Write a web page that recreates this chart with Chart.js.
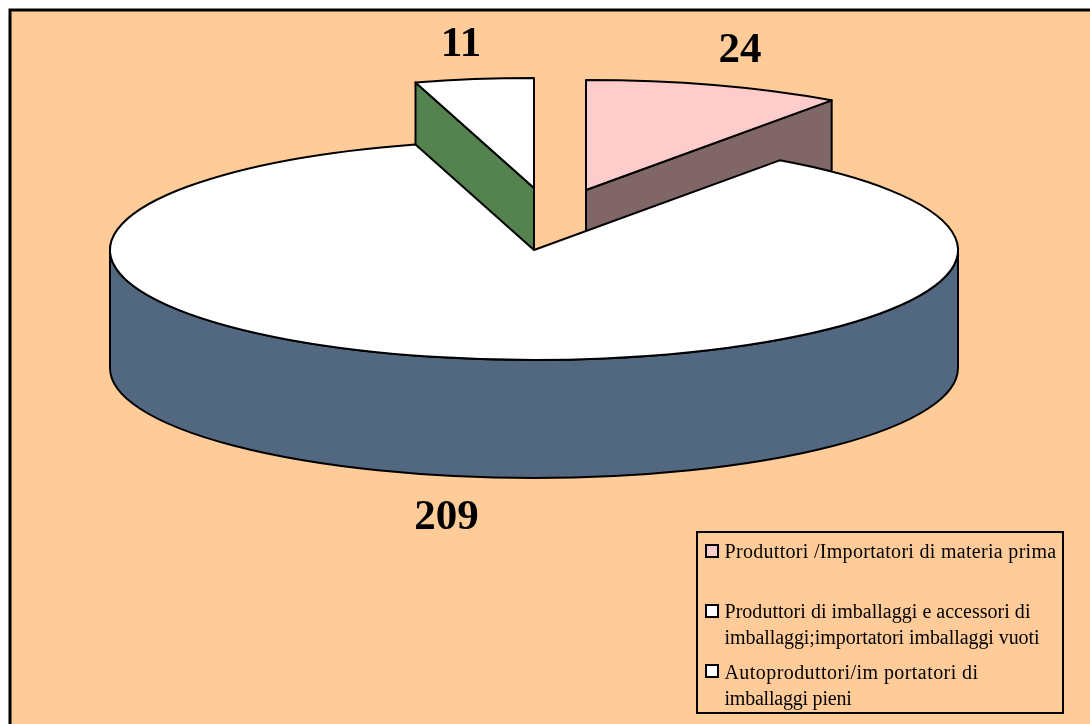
<!DOCTYPE html>
<html>
<head>
<meta charset="utf-8">
<title>Torta</title>
<script src="https://cdn.jsdelivr.net/npm/chart.js@4/dist/chart.umd.js"></script>
<style>
  html, body { margin: 0; padding: 0; background: #fff; overflow: hidden; }
  canvas { display: block; }
</style>
</head>
<body>
<canvas id="pieChart" width="1090" height="724"></canvas>
<script>
const categories = [
  'Produttori /Importatori di materia prima',
  ['Produttori di imballaggi e accessori di', 'imballaggi;importatori imballaggi vuoti'],
  ['Autoproduttori/im portatori di', 'imballaggi pieni']
];
const sliceValues = [24, 209, 11];

const topColors = ['#ffcccc', '#ffffff', '#ffffff'];
const sideColors = ['#806666', '#526880', '#54834f'];

// geometry of the tilted pie
const PIE_X = 534;
const PIE_Y = 250;
const PIE_RADIUS = 424;
const TILT = 110 / 424;
const DEPTH = 118;
const sliceShift = [[52, -60], [0, 0], [0, -62]];

const FONT_FAMILY = '"Liberation Serif", "Times New Roman", serif';
const valueLabelPos = [[740, 62], [446.5, 529], [461, 56]];
const legendRows = [[558, 551], [618, 611], [679, 671]];
const legendWidths = [[332], [306, 315], [254, 127]];
const LEGEND_LINE = 26;

function sectorPath(ctx, arc) {
  ctx.beginPath();
  ctx.moveTo(arc.x, arc.y);
  ctx.ellipse(arc.x, arc.y, arc.outerRadius, arc.outerRadius * TILT, 0, arc.startAngle, arc.endAngle);
  ctx.closePath();
}

function fillAndStroke(ctx, color) {
  ctx.fillStyle = color;
  ctx.fill();
  ctx.stroke();
}

// side faces: cut edges that look forward, then the front of the rim
function drawSides(ctx, arc, color) {
  const rx = arc.outerRadius;
  const ry = rx * TILT;
  [arc.startAngle, arc.endAngle].forEach((angle, i) => {
    const facing = i === 0 ? Math.cos(angle) < -1e-6 : Math.cos(angle) > 1e-6;
    if (!facing) return;
    const ex = arc.x + rx * Math.cos(angle);
    const ey = arc.y + ry * Math.sin(angle);
    ctx.beginPath();
    ctx.moveTo(arc.x, arc.y);
    ctx.lineTo(ex, ey);
    ctx.lineTo(ex, ey + DEPTH);
    ctx.lineTo(arc.x, arc.y + DEPTH);
    ctx.closePath();
    fillAndStroke(ctx, color);
  });
  const from = Math.max(arc.startAngle, 0);
  const to = Math.min(arc.endAngle, Math.PI);
  if (to > from) {
    ctx.beginPath();
    ctx.ellipse(arc.x, arc.y, rx, ry, 0, from, to);
    ctx.ellipse(arc.x, arc.y + DEPTH, rx, ry, 0, to, from, true);
    ctx.closePath();
    fillAndStroke(ctx, color);
  }
}

const tiltedPie = {
  id: 'tiltedPie',
  // square area so the pie gets its full radius, the tilt squashes it later
  afterLayout(chart) {
    chart.chartArea = {
      left: PIE_X - PIE_RADIUS,
      right: PIE_X + PIE_RADIUS,
      top: PIE_Y - PIE_RADIUS,
      bottom: PIE_Y + PIE_RADIUS,
      width: PIE_RADIUS * 2,
      height: PIE_RADIUS * 2
    };
  },
  // the frame runs off the right and bottom of the page
  beforeDraw(chart) {
    const ctx = chart.ctx;
    ctx.save();
    ctx.fillStyle = '#ffcc99';
    ctx.fillRect(10, 10, 1100, 730);
    ctx.strokeStyle = '#000';
    ctx.lineWidth = 3;
    ctx.strokeRect(10, 10, 1100, 730);
    ctx.restore();
  },
  beforeDatasetsDraw(chart) {
    const ctx = chart.ctx;
    const arcs = chart.getDatasetMeta(0).data;
    // biggest slice last, it covers the lower part of the pulled out ones
    const order = arcs.map((arc, i) => i).sort((a, b) => sliceValues[a] - sliceValues[b]);
    order.forEach(i => {
      const arc = arcs[i];
      ctx.save();
      ctx.translate(sliceShift[i][0], sliceShift[i][1]);
      ctx.strokeStyle = '#000';
      ctx.lineWidth = 2;
      ctx.lineJoin = 'round';
      drawSides(ctx, arc, sideColors[i]);
      ctx.save();
      ctx.translate(arc.x, arc.y);
      ctx.scale(1, TILT);
      ctx.translate(-arc.x, -arc.y);
      arc.draw(ctx);
      ctx.restore();
      sectorPath(ctx, arc);
      ctx.stroke();
      ctx.restore();
    });
    return false;
  },
  afterDraw(chart) {
    const ctx = chart.ctx;
    ctx.save();
    ctx.fillStyle = '#000';
    ctx.textBaseline = 'alphabetic';

    ctx.font = 'bold 43px ' + FONT_FAMILY;
    ctx.textAlign = 'center';
    sliceValues.forEach((value, i) => {
      ctx.fillText(String(value), valueLabelPos[i][0], valueLabelPos[i][1]);
    });

    // legend box
    ctx.fillStyle = '#ffcc99';
    ctx.strokeStyle = '#000';
    ctx.lineWidth = 2;
    ctx.fillRect(697, 532, 366, 181);
    ctx.strokeRect(697, 532, 366, 181);
    ctx.font = '20px ' + FONT_FAMILY;
    ctx.textAlign = 'left';
    categories.forEach((label, i) => {
      const lines = Array.isArray(label) ? label : [label];
      const [baseline, middle] = legendRows[i];
      ctx.fillStyle = topColors[i];
      ctx.fillRect(706, middle - 6, 12, 12);
      ctx.strokeRect(706, middle - 6, 12, 12);
      ctx.fillStyle = '#000';
      lines.forEach((line, k) => {
        // spread the letters so each line keeps its set width
        ctx.letterSpacing = '0px';
        const extra = (legendWidths[i][k] - ctx.measureText(line).width) / line.length;
        ctx.letterSpacing = extra.toFixed(3) + 'px';
        ctx.fillText(line, 724.5, baseline + k * LEGEND_LINE);
      });
    });
    ctx.restore();
  }
};

new Chart(document.getElementById('pieChart'), {
  type: 'pie',
  data: {
    labels: categories,
    datasets: [{
      data: sliceValues,
      backgroundColor: topColors,
      borderWidth: 0
    }]
  },
  options: {
    responsive: false,
    animation: false,
    events: [],
    layout: { padding: 0 },
    plugins: {
      legend: { display: false },
      tooltip: { enabled: false }
    }
  },
  plugins: [tiltedPie]
});
</script>
</body>
</html>
